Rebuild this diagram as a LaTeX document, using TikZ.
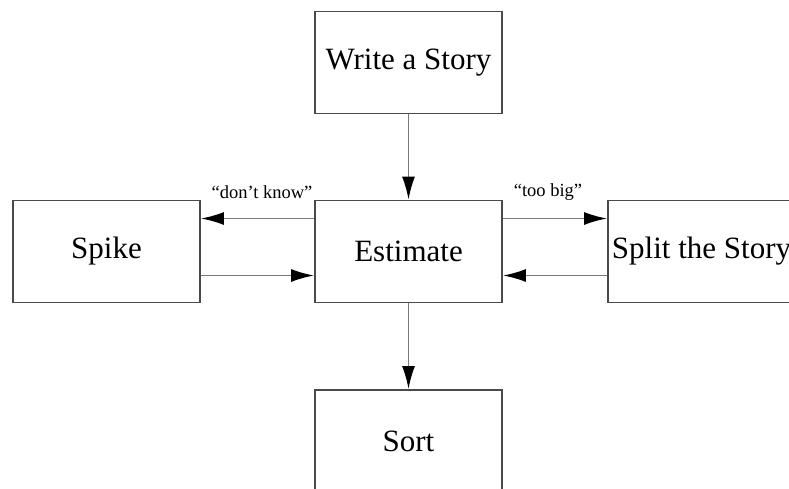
\documentclass[tikz,border=0pt]{standalone}
\usepackage{fontspec}
\setmainfont{Liberation Serif}
\usetikzlibrary{arrows.meta}
\definecolor{boxline}{HTML}{4A4A4A}
\definecolor{arrline}{HTML}{7A7A7A}
\tikzset{
  stepbox/.style={draw=boxline, line width=1.8pt, fill=white, minimum width=187pt, minimum height=102pt, inner sep=0pt, font=\fontsize{31}{35}\selectfont},
  arr/.style={draw=arrline, line width=1.8pt, -{Latex[length=23pt,width=13pt,color=black]}},
  lbl/.style={font=\fontsize{18.5}{20}\selectfont, inner sep=0pt}
}
\begin{document}
\begin{tikzpicture}[x=1pt,y=-1pt]
\clip (0,0) rectangle (789,488);
\fill[white] (0,0) rectangle (789,488);
\node[stepbox] (write) at (408.5,62.5) {Write a Story};
\node[stepbox] (est) at (408.5,251.5) {Estimate};
\node[stepbox] (spike) at (106.5,251.5) {Spike};
\node[stepbox] (split) at (701.5,251.5) {Split the Story};
\node[stepbox] (sort) at (408.5,441) {Sort};
\draw[arr] (write.south) -- (est.north);
\draw[arr] (est.south) -- (sort.north);
\draw[arr] ([yshift=33pt]est.west) -- ([yshift=33pt]spike.east);
\draw[arr] ([yshift=-24pt]spike.east) -- ([yshift=-24pt]est.west);
\draw[arr] ([yshift=33pt]est.east) -- ([yshift=33pt]split.west);
\draw[arr] ([yshift=-24pt]split.west) -- ([yshift=-24pt]est.east);
\node[lbl] (dk) at (262,192) {“don’t know”};
\node[lbl] (tb) at (548,192) {“too big”};
\end{tikzpicture}
\end{document}
